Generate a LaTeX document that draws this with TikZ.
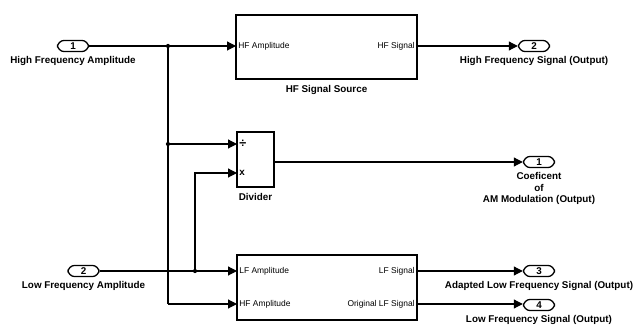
\documentclass[tikz,border=0pt]{standalone}
\usepackage{fontspec}
\setmainfont{Liberation Sans}
\usetikzlibrary{calc,arrows.meta,positioning}

\tikzset{
  port/.style={draw, line width=0.9pt, rounded corners=5pt, minimum width=0.78cm,
    minimum height=0.28cm, inner sep=0pt, font=\fontsize{7}{7}\selectfont\bfseries},
  block/.style={draw, line width=1.1pt, inner sep=0pt},
  lbl/.style={font=\fontsize{7}{8}\selectfont\bfseries, inner sep=1pt, align=center},
  pin/.style={font=\fontsize{6}{6}\selectfont, inner sep=1.5pt},
  sig/.style={line width=0.8pt, -{Triangle[length=2.2mm,width=2.2mm]}},
  wire/.style={line width=0.8pt},
  dot/.style={circle, fill, inner sep=0pt, minimum size=3pt}
}

\begin{document}
\begin{tikzpicture}[x=0.025cm, y=-0.025cm]
    \useasboundingbox (0,0) rectangle (640,327);

    % inports
    \node[port] (in1) at (73,46) {1};
    \node[port] (in2) at (83.5,271) {2};
    \node[lbl, below=2pt of in1] (in1lbl) {High Frequency Amplitude};
    \node[lbl, below=2pt of in2] (in2lbl) {Low Frequency Amplitude};

    % blocks
    \node[block, minimum width=4.525cm, minimum height=1.6cm] (hfsrc) at (326.5,47) {};
    \node[block, minimum width=0.925cm, minimum height=1.375cm] (divider) at (255.5,159.5) {};
    \node[block, minimum width=4.5cm, minimum height=1.625cm] (lfsrc) at (327,287.5) {};
    \node[lbl, below=3pt of hfsrc] (hfsrclbl) {HF Signal Source};
    \node[lbl, below=3pt of divider] (dividerlbl) {Divider};
    \node[lbl, below=4pt of lfsrc] (lfsrclbl) {LF Signal Source};

    % block ports
    \coordinate (hfin) at (236,46);
    \coordinate (hfout) at (417,46);
    \coordinate (divin1) at (237,144);
    \coordinate (divin2) at (237,173);
    \coordinate (divout) at (274,162);
    \coordinate (lfin1) at (237,271);
    \coordinate (lfin2) at (237,304);
    \coordinate (lfout1) at (417,271);
    \coordinate (lfout2) at (417,304);

    \node[pin, anchor=west] at (hfin) {HF Amplitude};
    \node[pin, anchor=east] at (hfout) {HF Signal};
    \node[pin, anchor=west, font=\fontsize{9}{9}\selectfont\bfseries] at (divin1) {÷};
    \node[pin, anchor=west, font=\fontsize{7}{7}\selectfont\bfseries] at (divin2) {x};
    \node[pin, anchor=west] at (lfin1) {LF Amplitude};
    \node[pin, anchor=west] at (lfin2) {HF Amplitude};
    \node[pin, anchor=east] at (lfout1) {LF Signal};
    \node[pin, anchor=east] at (lfout2) {Original LF Signal};

    % outports
    \node[port] (out2) at (534,46) {2};
    \node[port] (out1) at (539,162) {1};
    \node[port] (out3) at (539,271) {3};
    \node[port] (out4) at (539,305) {4};
    \node[lbl, below=2pt of out2] (out2lbl) {High Frequency Signal (Output)};
    \node[lbl, below=2pt of out1] (out1lbl) {Coeficent\\of\\AM Modulation (Output)};
    \node[lbl, below=2pt of out3] (out3lbl) {Adapted Low Frequency Signal (Output)};
    \node[lbl, below=2pt of out4] (out4lbl) {Low Frequency Signal (Output)};

    % branch points
    \node[dot] (j1) at (168,46) {};
    \node[dot] (j2) at (168,144) {};
    \node[dot] (j3) at (195,271) {};
    \coordinate (c1) at (168,304);

    % connectors
    \draw[sig] (in1) -- (hfin);
    \draw[wire] (j1.center) -- (c1);
    \draw[sig] (j2.center) -- (divin1);
    \draw[sig] (c1) -- (lfin2);
    \draw[sig] (in2) -- (lfin1);
    \draw[sig] (j3.center) |- (divin2);

    \draw[sig] (hfout) -- (out2);
    \draw[sig] (divout) -- (divout -| out1.west);
    \draw[sig] (lfout1) -- (out3);
    \draw[sig] (lfout2) -- (lfout2 -| out4.west);
\end{tikzpicture}
\end{document}
